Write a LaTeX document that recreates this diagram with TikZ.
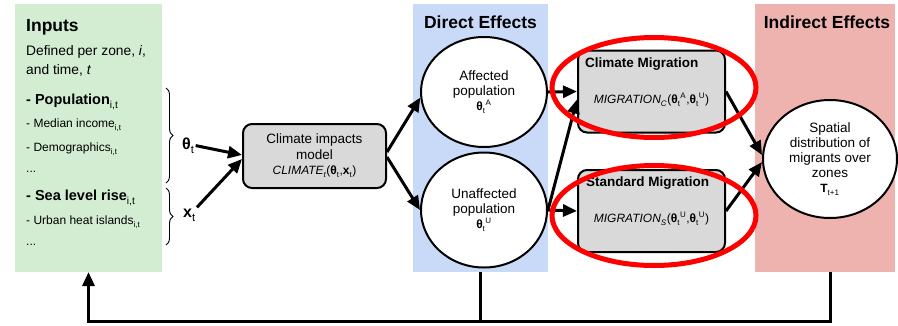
\documentclass[tikz,border=0pt]{standalone}
\usepackage{fontspec}
\setmainfont{Liberation Sans}
\usepackage{amsmath}
\usetikzlibrary{arrows.meta,decorations.pathreplacing,shapes.geometric}

\definecolor{ingreen}{HTML}{D3EDD3}
\definecolor{dirblue}{HTML}{C9DAF8}
\definecolor{indpink}{HTML}{EFB3AF}
\definecolor{boxgray}{HTML}{D9D9D9}
\definecolor{ringred}{HTML}{FF0000}

\newcommand\fsz[2]{\fontsize{#1}{#2}\selectfont}
\newcommand\sbt[1]{\ensuremath{_{\text{\raisebox{-0.35ex}{\mdseries #1}}}}}
\newcommand\sbsp[2]{\ensuremath{_{\text{\raisebox{-0.35ex}{\mdseries #1}}}{}^{\text{\mdseries #2}}}}
\newcommand\bth{\textbf{θ}}

\tikzset{
  panel/.style={draw=none, inner sep=0pt, outer sep=0pt, minimum width=#1, minimum height=268},
  circ/.style={ellipse, draw, line width=2, fill=white, inner sep=0pt, align=center, font=\fsz{13.5}{15}},
  gbox/.style={rectangle, rounded corners=9, draw, line width=2, fill=boxgray, inner sep=0pt},
  ring/.style={ellipse, draw=ringred, line width=5, inner sep=0pt},
  conn/.style={line width=3, -{Triangle[length=14pt,width=12pt]}},
  fbline/.style={line width=3},
  ltext/.style={anchor=base west, inner sep=0pt},
  item/.style={ltext, font=\fsz{12}{14}},
  bitem/.style={ltext, font=\fsz{14.5}{17}\bfseries},
  ptitle/.style={inner sep=0pt, font=\fsz{17.5}{20}\bfseries},
  brc/.style={decorate, decoration={brace, amplitude=7pt}, line width=0.9}
}

\begin{document}
\begin{tikzpicture}[x=1pt, y=-1pt]
\useasboundingbox (0,0) rectangle (898,325);

% panels
\node[panel=147, fill=ingreen] (inputs) at (88.5,138) {};
\node[panel=135, fill=dirblue] (direct) at (480.5,138) {};
\node[panel=140, fill=indpink] (indirect) at (825,138) {};

% panel titles
\node[ptitle, anchor=base west] (inputst) at (26,31) {Inputs};
\node[ptitle] (directt) at (480.5,22) {Direct Effects};
\node[ptitle] (indirectt) at (827,22) {Indirect Effects};

% inputs text
\node[ltext, font=\fsz{13.8}{16}] (def1) at (26,55) {Defined per zone, \textit{i},};
\node[ltext, font=\fsz{13.8}{16}] (def2) at (26,74) {and time, \textit{t}};
\node[bitem] (pop) at (26,104) {- Population\sbt{i,t}};
\node[item] (inc) at (26,127) {- Median income\sbt{i,t}};
\node[item] (demo) at (26,151) {- Demographics\sbt{i,t}};
\node[item] (dots1) at (26,172) {...};
\node[bitem] (sea) at (26,200) {- Sea level rise\sbt{i,t}};
\node[item] (heat) at (26,224) {- Urban heat islands\sbt{i,t}};
\node[item] (dots2) at (26,245) {...};

% braces
\coordinate (b1t) at (166,88);
\coordinate (b1b) at (166,183);
\coordinate (b2t) at (166,188);
\coordinate (b2b) at (166,245);
\draw[brc] (b1t) -- (b1b);
\draw[brc] (b2t) -- (b2b);
\node[ltext, inner sep=1pt, font=\fsz{16}{18}] (theta) at (181,149) {\bth\sbt{t}};
\node[ltext, inner sep=1pt, font=\fsz{16}{18}] (xv) at (182,217) {\textbf{x}\sbt{t}};

% climate model
\node[gbox, minimum width=143, minimum height=64, align=center, font=\fsz{13.5}{15.5}] (clim) at (314.5,156)
  {Climate impacts\\model\\{\fsz{12}{14}\textit{CLIMATE\sbt{t}}(\bth\sbt{t},\textbf{x}\sbt{t})}};

% direct effects circles
\node[circ, minimum width=126, minimum height=110] (aff) at (484,92)
  {Affected\\population\\{\fsz{12}{14}\bth\sbsp{t}{A}}};
\node[circ, minimum width=126, minimum height=115] (unaff) at (484,210)
  {Unaffected\\population\\{\fsz{12}{14}\bth\sbsp{t}{U}}};

% migration boxes
\node[gbox, minimum width=147, minimum height=82] (cmig) at (651.5,91.5) {};
\node[gbox, minimum width=147, minimum height=82] (smig) at (651.5,211) {};
\node[anchor=west, inner sep=0pt, font=\fsz{13.5}{15}\bfseries] (cmigt) at (585,64) {Climate Migration};
\node[anchor=west, inner sep=0pt, font=\fsz{13.5}{15}\bfseries] (smigt) at (586,183) {Standard Migration};
\node[inner sep=0pt, font=\fsz{12}{14}] (cmigf) at (651.5,100) {\textit{MIGRATION\sbt{C}}(\bth\sbsp{t}{A},\bth\sbsp{t}{U})};
\node[inner sep=0pt, font=\fsz{12}{14}] (smigf) at (651.5,219) {\textit{MIGRATION\sbt{S}}(\bth\sbsp{t}{U},\bth\sbsp{t}{U})};

% indirect effects circle
\node[circ, minimum width=134, minimum height=118] (tcirc) at (830,159)
  {Spatial\\distribution of\\migrants over\\zones\\{\fsz{12}{16}\textbf{T}\sbt{t+1}}};

% connectors
\draw[conn] (theta.east) -- ([yshift=1pt]clim.west);
\draw[conn] (xv.north east) -- ([yshift=-3pt]clim.west);
\draw[conn] ([yshift=4pt]clim.east) -- (aff.185);
\draw[conn] ([yshift=-1pt]clim.east) -- (unaff.west);
\draw[conn] (aff.east) -- (cmig.west);
\draw[conn] (unaff.east) -- ([yshift=-8pt]cmig.west);
\draw[conn] (unaff.east) -- (smig.west);
\draw[conn] (cmig.east) -- ([yshift=4pt]tcirc.west);
\draw[conn] (smig.east) -- ([yshift=-3pt]tcirc.west);

% feedback loop
\coordinate (fbase) at (0,321);
\draw[fbline] (direct.south) -- (direct.south |- fbase);
\draw[conn] (tcirc |- indirect.south) -- (tcirc |- fbase) -- (inputs.south |- fbase) -- (inputs.south);

% red highlight rings
\node[ring, minimum width=204, minimum height=100] (ring1) at (654,87.5) {};
\node[ring, minimum width=204, minimum height=100] (ring2) at (654,215.5) {};
\end{tikzpicture}
\end{document}
